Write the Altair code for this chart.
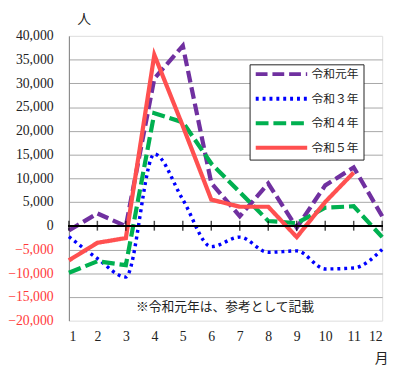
import altair as alt
import pandas as pd

months = list(range(1, 13))
series = ["令和元年", "令和３年", "令和４年", "令和５年"]
r1 = [-1000, 2600, -100, 31000, 37900, 9000, 2000, 8900, -400, 8500, 12300, 2000]
r3 = [-2300, -6900, -10800, 15100, 5500, -4400, -2400, -5600, -5300, -9100, -8900, -5000]
r4 = [-9900, -7500, -8300, 23700, 21800, 13100, 7100, 1000, 550, 3800, 4100, -2400]
r5 = [-7300, -3600, -2600, 36000, 21000, 5500, 4000, 4000, -2400, 5000, 11200, None]
colors = ["#7030A0", "#0000FF", "#00B050", "#FF5050"]
dashes = [[12, 5], [3, 4], [13, 5], [1, 0]]
y_ticks = list(range(-20000, 40001, 5000))
note = "※令和元年は、参考として記載"

rows = []
for name, vals in zip(series, [r1, r3, r4, r5]):
    for m, v in zip(months, vals):
        if v is not None:
            rows.append({"month": m, "value": v, "series": name})
df = pd.DataFrame(rows)

NUM_FONT = "Liberation Serif"
JP_FONT = "Noto Sans CJK JP"

xscale = alt.Scale(domain=[1, 12], nice=False, zero=False)
yscale = alt.Scale(domain=[-20000, 40000], nice=False)

xaxis = alt.Axis(values=months, format="d", domain=False, ticks=False, grid=False,
                 labelFont=NUM_FONT, labelFontSize=14, labelColor="#222222", labelPadding=9,
                 labelOverlap=False,
                 title="月", titleFont=JP_FONT, titleFontSize=14, titleFontWeight="normal",
                 titleX=318, titleY=46, titleBaseline="bottom", titleAlign="center", titleColor="#222222")
yaxis = alt.Axis(values=y_ticks, format=",d", domain=True, domainColor="#808080", ticks=False,
                 grid=True, gridColor="#A6A6A6", gridWidth=1, labelOverlap=False,
                 gridOpacity=alt.condition("datum.value == 40000 || datum.value == -20000 || datum.value == 0",
                                           alt.value(0), alt.value(1)),
                 labelFont=NUM_FONT, labelFontSize=14, labelPadding=16,
                 labelColor=alt.condition("datum.value < 0", alt.value("#FF3B3B"), alt.value("#222222")),
                 title="人", titleAngle=0, titleFont=JP_FONT, titleFontSize=14, titleFontWeight="normal",
                 titleX=15, titleY=-10, titleAlign="center", titleBaseline="bottom", titleColor="#222222")

legend = alt.Legend(title=None, orient="none", legendX=184, legendY=29,
                    symbolType="M-1,0H13", symbolSize=56, symbolStrokeWidth=4,
                    labelFont=JP_FONT, labelFontSize=12, labelColor="#222222",
                    rowPadding=9, padding=4, strokeColor="#222222",
                    fillColor="white", labelOffset=47)

color = alt.Color("series:N", scale=alt.Scale(domain=series, range=colors), legend=legend)
dash = alt.StrokeDash("series:N", scale=alt.Scale(domain=series, range=dashes), legend=legend)

X = alt.X("month:Q", scale=xscale, axis=xaxis)
Y = alt.Y("value:Q", scale=yscale, axis=yaxis)
Y0 = alt.YDatum(0, type="quantitative", scale=yscale, axis=yaxis)

base = alt.Chart(df).encode(x=X, y=Y, color=color, strokeDash=dash, order="month:Q")

blue = base.transform_filter(alt.datum.series == "令和３年").mark_line(
    strokeWidth=3.5, interpolate="monotone")
others = base.transform_filter(alt.datum.series != "令和３年").mark_line(strokeWidth=4.3)

zero = alt.Chart(df).mark_rule(color="black", strokeWidth=1.5).encode(y=Y0)
ticks = alt.Chart(pd.DataFrame({"month": months})).mark_tick(
    color="black", size=10, thickness=1.5, orient="vertical").encode(x=X, y=Y0)
text = alt.Chart(pd.DataFrame({"t": [note]})).mark_text(
    font=JP_FONT, fontSize=13, color="#222222", align="center", baseline="middle").encode(
    text="t:N", x=alt.value(159), y=alt.value(276))

chart = alt.layer(blue, others, zero, ticks, text).properties(
    width=319, height=290,
    autosize=alt.AutoSizeParams(type="none"),
    padding={"left": 62, "top": 25, "right": 10, "bottom": 54},
).configure_view(stroke=None).configure(background="white")

chart.save("out.html", embed_options={"renderer": "svg", "actions": False})
